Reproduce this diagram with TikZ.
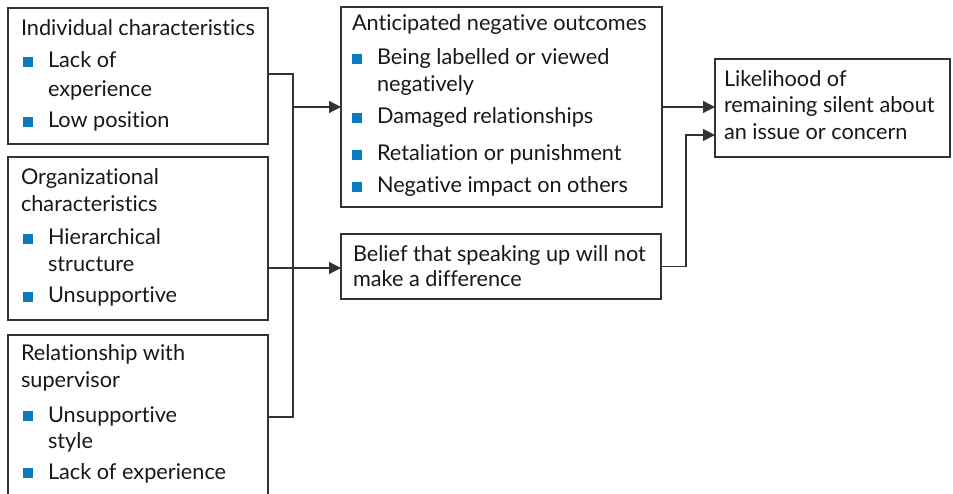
\documentclass[tikz,border=0pt]{standalone}
\usepackage{fontspec}
\setmainfont{Lato}[Ligatures={NoCommon}]
\usetikzlibrary{arrows.meta}
\definecolor{ink}{HTML}{1A1718}
\definecolor{rulegray}{HTML}{333333}
\definecolor{bulletblue}{HTML}{0B7BC1}
\tikzset{
  box/.style={draw=rulegray, line width=1.3pt, rectangle, inner sep=0pt, outer sep=0pt},
  txt/.style={anchor=base west, inner sep=0pt, outer sep=0pt, text=ink,
              font=\fontsize{21.7}{26}\selectfont},
  link/.style={draw=rulegray, line width=1.3pt},
  arrow/.style={link, -{Triangle[length=12pt,width=12pt]}},
  bulletsq/.style={fill=bulletblue}
}
% bullet item: name, x, baseline y, text
\newcommand\bitem[4]{%
  \fill[bulletsq] (#2-25,#3-1) rectangle (#2-15,#3-11);
  \node[txt] (#1) at (#2,#3) {#4};}
\begin{document}
\begin{tikzpicture}[x=1pt,y=-1pt]
\useasboundingbox (0,0) rectangle (953,494);
\clip (0,0) rectangle (953,494);

% boxes
\node[box, minimum width=260pt, minimum height=136pt] (ind) at (138,76) {};
\node[box, minimum width=260pt, minimum height=163pt] (org) at (138,238.5) {};
\node[box, minimum width=260pt, minimum height=180pt] (rel) at (138,425) {};
\node[box, minimum width=321pt, minimum height=200pt] (neg) at (501.5,107) {};
\node[box, minimum width=320pt, minimum height=65pt] (bel) at (501,266.5) {};
\node[box, minimum width=235pt, minimum height=98pt] (lik) at (832.5,108) {};

% individual characteristics
\node[txt] (indt) at (21,36) {Individual characteristics};
\bitem{inda}{48}{68}{Lack of}
\node[txt] (indb) at (48,97) {experience};
\bitem{indc}{48}{128}{Low position}

% organizational characteristics
\node[txt] (orgt) at (21,185) {Organizational};
\node[txt] (orgu) at (21,212) {characteristics};
\bitem{orga}{48}{245}{Hierarchical}
\node[txt] (orgb) at (48,272) {structure};
\bitem{orgc}{48}{303}{Unsupportive}

% relationship with supervisor
\node[txt] (relt) at (21,360) {Relationship with};
\node[txt] (relu) at (21,387) {supervisor};
\bitem{rela}{48}{422}{Unsupportive}
\node[txt] (relb) at (48,448) {style};
\bitem{relc}{48}{479}{Lack of experience}

% anticipated negative outcomes
\node[txt] (negt) at (352,31) {Anticipated negative outcomes};
\bitem{nega}{377}{65}{Being labelled or viewed}
\node[txt] (negb) at (377,92) {negatively};
\bitem{negc}{377}{124}{Damaged relationships}
\bitem{negd}{377}{161}{Retaliation or punishment}
\bitem{nege}{377}{193}{Negative impact on others}

% belief
\node[txt] (belt) at (353,262) {Belief that speaking up will not};
\node[txt] (belu) at (353,287) {make a difference};

% outcome
\node[txt] (likt) at (724,87) {Likelihood of};
\node[txt] (liku) at (724,113) {remaining silent about};
\node[txt] (likv) at (724,140) {an issue or concern};

% connectors
\coordinate (jt) at (293,74);
\coordinate (jb) at (293,417);
\coordinate (jm) at (293,268);
\coordinate (kn) at (686,135);
\draw[link] (ind.east |- jt) -- (jt) -- (jb) -- (rel.east |- jb);
\draw[arrow] (neg.west -| jt) -- (neg.west);
\draw[arrow] (org.east |- jm) -- (bel.west |- jm);
\draw[arrow] (neg.east) -- (lik.west |- neg.east);
\draw[arrow] (bel.east) -| (kn) -- (lik.west |- kn);
\end{tikzpicture}
\end{document}
